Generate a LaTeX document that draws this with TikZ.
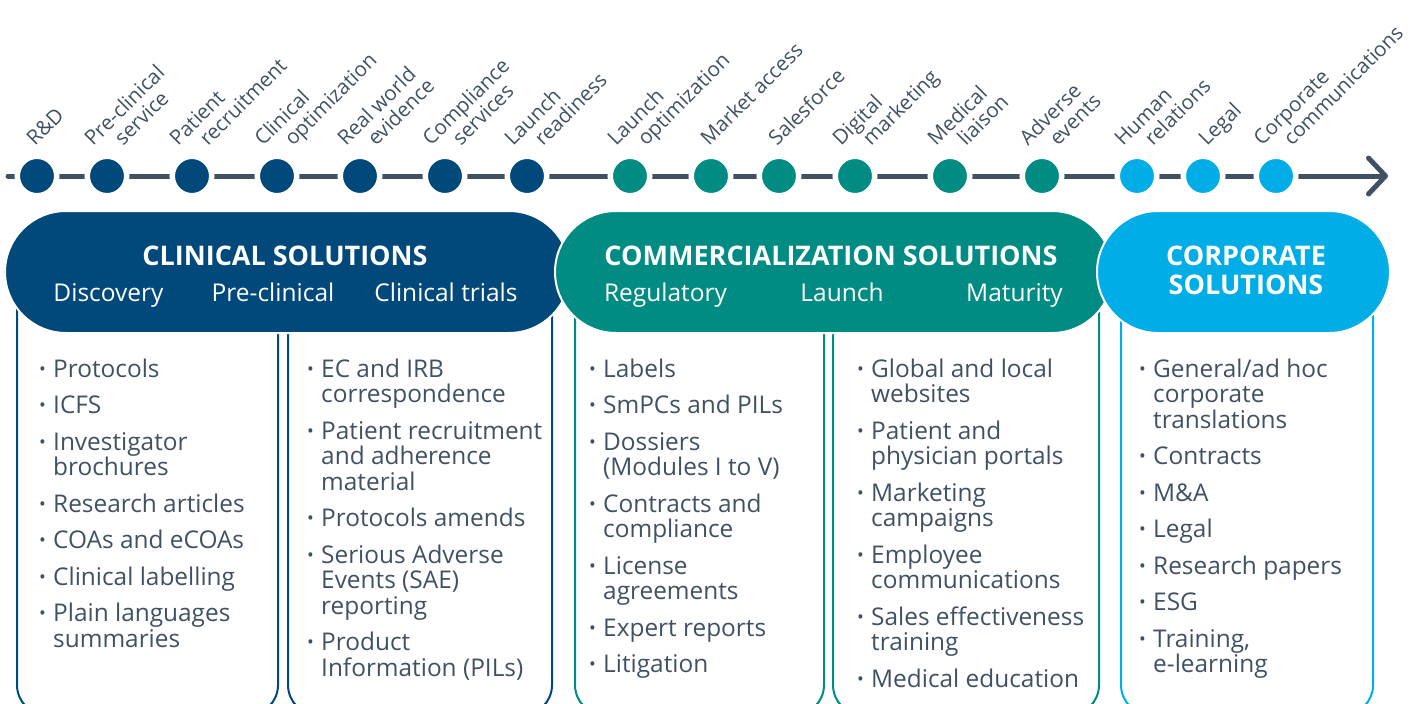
\documentclass[tikz,border=0pt]{standalone}
\usepackage{fontspec}
\setmainfont{Open Sans}
\usetikzlibrary{calc}
\usetikzlibrary{arrows.meta}
\usetikzlibrary{shapes.misc}
\definecolor{clinblue}{RGB}{0,73,122}
\definecolor{commteal}{RGB}{0,140,130}
\definecolor{corpblue}{RGB}{0,173,230}
\definecolor{slate}{RGB}{64,81,99}
\tikzset{stage/.style={circle,draw=white,line width=5.5pt,minimum size=39.5pt,inner sep=0pt}}
\tikzset{stagelabel/.style={rotate=45,anchor=base west,align=left,inner sep=0pt,text=slate,font=\fontsize{20.5}{21.2}\selectfont}}
\tikzset{pill/.style={rounded rectangle,draw=white,line width=2pt,minimum height=122pt,inner sep=0pt}}
\tikzset{column/.style={line width=2pt,rounded corners=30pt}}
\tikzset{itemlist/.style={anchor=north west,align=left,inner sep=0pt,text=slate,font=\fontsize{24.4}{25.5}\selectfont}}
\tikzset{heading/.style={text=white,font=\fontsize{27}{29}\selectfont\bfseries,inner sep=0pt}}
\tikzset{subhead/.style={text=white,font=\fontsize{24.5}{26}\selectfont,inner sep=0pt,anchor=base}}
\newcommand{\bul}{\makebox[14pt][l]{\raisebox{2pt}{\fontsize{18}{18}\selectfont •}}}
\newcommand{\fbul}{\rule{0pt}{20pt}\bul}
\newcommand{\ind}{\hspace*{14pt}}
\newcommand{\lind}{\hspace*{21.2pt}}

\begin{document}
\begin{tikzpicture}[x=1pt,y=-1pt]
\useasboundingbox (0,0) rectangle (1411,704);
\clip (0,0) rectangle (1411,704);

% columns under the headers
\draw[column,draw=clinblue] (17,272) rectangle (278,715);
\draw[column,draw=clinblue] (288,272) rectangle (552,715);
\draw[column,draw=commteal] (575,272) rectangle (824,715);
\draw[column,draw=commteal] (833,272) rectangle (1099,715);
\draw[column,draw=corpblue] (1121,272) rectangle (1373,715);

% header pills
\node[pill,fill=clinblue,minimum width=565pt] (clin) at (287.5,272) {};
\node[pill,fill=commteal,minimum width=558pt] (comm) at (834,272) {};
\node[pill,fill=corpblue,minimum width=293pt] (corp) at (1243.5,272) {};

\node[heading,anchor=base] (clinhead) at (285,265) {CLINICAL SOLUTIONS};
\node[subhead] (disc) at (108.5,301) {Discovery};
\node[subhead] (prec) at (273,301) {Pre-clinical};
\node[subhead] (trials) at (446,301) {Clinical trials};

\node[heading,anchor=base] (commhead) at (831,265) {COMMERCIALIZATION SOLUTIONS};
\node[subhead] (regul) at (665.5,301) {Regulatory};
\node[subhead] (launch) at (842,301) {Launch};
\node[subhead] (matur) at (1014.5,301) {Maturity};

\node[heading,align=center] (corphead) at (1246,270) {CORPORATE\\SOLUTIONS};

% timeline
\coordinate (tstart) at (8,176);
\coordinate (tend) at (1388,176);
\draw[slate,line width=5pt,line cap=round,-{Straight Barb[length=17pt,width=36pt,round]}] (tstart) -- (tend);

\foreach \cx/\col/\dx/\dy/\txt [count=\n] in {
  37/clinblue/-2/-29/{R\&D},
  107/clinblue/1/-14/{Pre-clinical\\\lind service},
  192/clinblue/1/-14/{Patient\\\lind recruitment},
  277/clinblue/1/-14/{Clinical\\\lind optimization},
  360/clinblue/1/-14/{Real world\\\lind evidence},
  445/clinblue/1/-14/{Compliance\\\lind services},
  527/clinblue/1/-14/{Launch\\\lind readiness},
  630/commteal/1/-14/{Launch\\\lind optimization},
  711/commteal/-2/-29/{Market access},
  779/commteal/-2/-29/{Salesforce},
  855/commteal/1/-14/{Digital\\\lind marketing},
  950/commteal/1/-14/{Medical\\\lind liaison},
  1042/commteal/1/-14/{Adverse\\\lind events},
  1137/corpblue/1/-14/{Human\\\lind relations},
  1203/corpblue/4/-29/{Legal},
  1276/corpblue/1/-14/{Corporate\\\lind communications}}
{
  \node[stage,fill=\col] (s\n) at (\cx,176) {};
  \node[stagelabel] (l\n) at ($(s\n)+(\dx,\dy)$) {\txt};
}

% lists
\node[itemlist] (list1) at (39,357) {\fbul Protocols\\[11pt]\bul ICFS\\[11pt]\bul Investigator\\\ind brochures\\[11pt]\bul Research articles\\[11pt]\bul COAs and eCOAs\\[11pt]\bul Clinical labelling\\[11pt]\bul Plain languages\\\ind summaries};
\node[itemlist] (list2) at (307,357) {\fbul EC and IRB\\\ind correspondence\\[11pt]\bul Patient recruitment\\\ind and adherence\\\ind material\\[11pt]\bul Protocols amends\\[11pt]\bul Serious Adverse\\\ind Events (SAE)\\\ind reporting\\[11pt]\bul Product\\\ind Information (PILs)};
\node[itemlist] (list3) at (589,357) {\fbul Labels\\[11pt]\bul SmPCs and PILs\\[11pt]\bul Dossiers\\\ind (Modules I to V)\\[11pt]\bul Contracts and\\\ind compliance\\[11pt]\bul License\\\ind agreements\\[11pt]\bul Expert reports\\[11pt]\bul Litigation};
\node[itemlist] (list4) at (857,357) {\fbul Global and local\\\ind websites\\[11pt]\bul Patient and\\\ind physician portals\\[11pt]\bul Marketing\\\ind campaigns\\[11pt]\bul Employee\\\ind communications\\[11pt]\bul Sales effectiveness\\\ind training\\[11pt]\bul Medical education};
\node[itemlist] (list5) at (1139,357) {\fbul General/ad hoc\\\ind corporate\\\ind translations\\[11pt]\bul Contracts\\[11pt]\bul M\&A\\[11pt]\bul Legal\\[11pt]\bul Research papers\\[11pt]\bul ESG\\[11pt]\bul Training,\\\ind e-learning};
\end{tikzpicture}
\end{document}
